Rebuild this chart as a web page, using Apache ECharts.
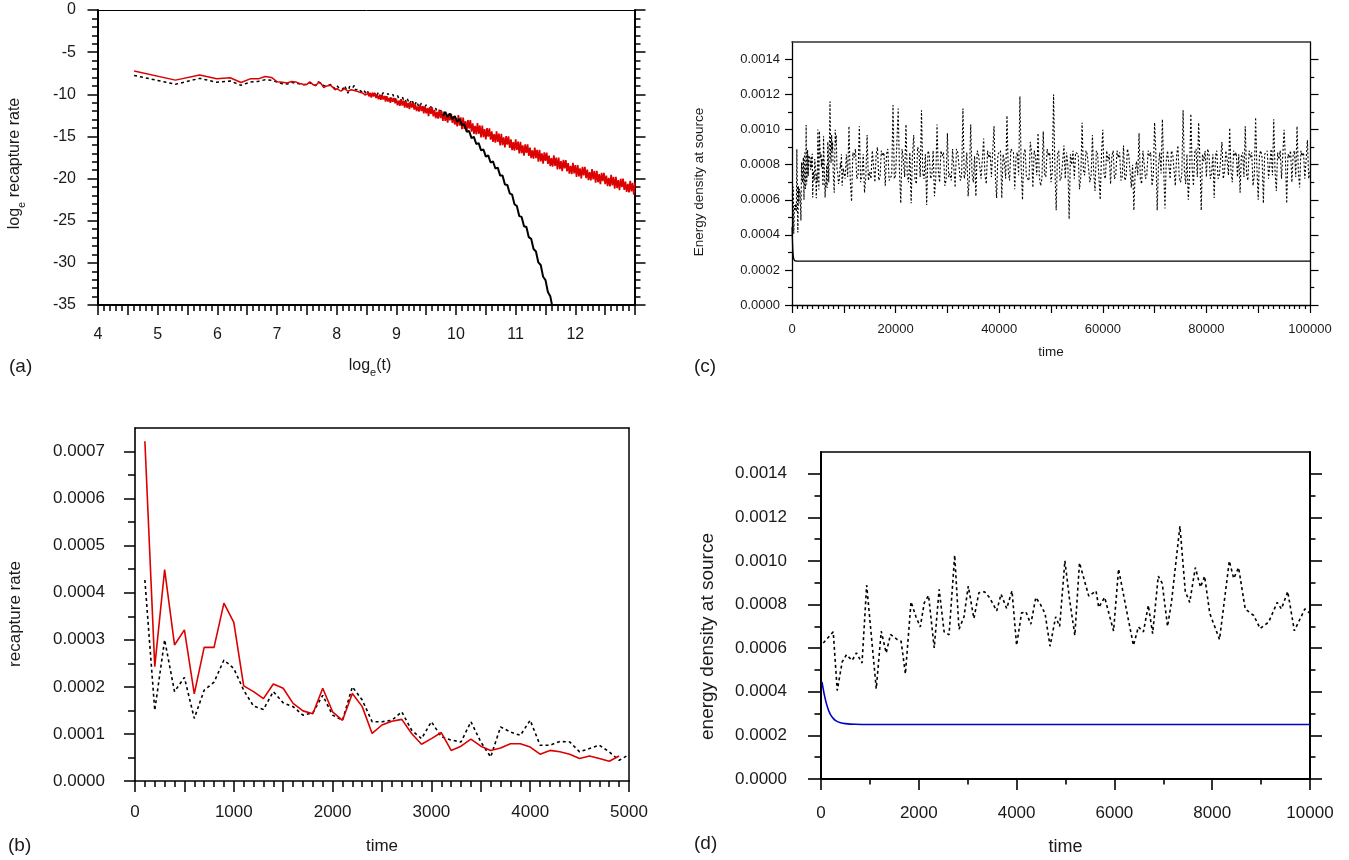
<!DOCTYPE html>
<html>
<head>
<meta charset="utf-8">
<script src="https://cdn.jsdelivr.net/npm/echarts@6/dist/echarts.min.js"></script>
<style>
html,body{margin:0;padding:0;background:#fff;}
#chart{width:1349px;height:860px;}
</style>
</head>
<body>
<div id="chart"></div>
<script>
// ---------------- DATA ----------------
// Panel (a): log_e recapture rate vs log_e(t)
const aLogTimeEarly = [4.605,5.298,5.704,5.991,6.215,6.397,6.551,6.685,6.802,6.908,
  7.003,7.090,7.170,7.244,7.313,7.378,7.438,7.496,7.550,7.601,
  7.650,7.696,7.741,7.783,7.824,7.863,7.901,7.937,7.972,8.006,
  8.039,8.071,8.102,8.132,8.161,8.189,8.216,8.243,8.269,8.294,
  8.319,8.343,8.366,8.389,8.412,8.434,8.455,8.476,8.497,8.517];
const aRedEarly = [-7.23,-8.32,-7.71,-8.15,-8.04,-8.60,-8.17,-8.17,-7.88,-8.00,
  -8.51,-8.57,-8.65,-8.49,-8.53,-8.71,-8.81,-8.85,-8.53,-8.83,
  -8.96,-8.59,-8.75,-9.20,-9.04,-8.97,-8.94,-9.20,-9.46,-9.32,
  -9.18,-9.64,-9.51,-9.33,-9.51,-9.64,-9.57,-9.45,-9.45,-9.54,
  -9.77,-9.64,-9.69,-9.77,-9.94,-9.85,-9.94,-10.08,-9.85,-9.95];
const aBlackEarly = [-7.76,-8.81,-8.11,-8.57,-8.42,-8.93,-8.55,-8.47,-8.27,-8.34,
  -8.55,-8.75,-8.79,-8.57,-8.70,-8.75,-8.87,-8.84,-8.61,-8.87,
  -8.96,-8.52,-8.67,-8.98,-8.98,-8.96,-8.83,-9.13,-9.32,-8.98,
  -9.27,-9.35,-9.40,-8.98,-9.40,-9.88,-9.07,-9.17,-9.24,-8.96,
  -9.48,-9.48,-9.38,-9.40,-9.69,-9.58,-9.48,-9.69,-10.03,-9.79];
const aRedTail = [
  [8.52,-9.62],[8.54,-10.25],[8.56,-9.83],[8.58,-10.39],[8.60,-9.80],[8.62,-10.27],[8.64,-9.83],[8.66,-10.45],[8.68,-10.01],[8.70,-10.60],
  [8.72,-10.18],[8.74,-10.65],[8.76,-10.05],[8.78,-10.63],[8.80,-10.20],[8.82,-10.85],[8.84,-10.23],[8.86,-10.85],[8.88,-10.44],[8.90,-11.00],
  [8.92,-10.41],[8.94,-10.88],[8.96,-10.43],[8.98,-11.06],[9.00,-10.62],[9.02,-11.31],[9.04,-10.75],[9.06,-11.37],[9.08,-10.57],[9.10,-11.33],
  [9.12,-10.74],[9.14,-11.59],[9.16,-10.77],[9.18,-11.59],[9.20,-11.03],[9.22,-11.76],[9.24,-10.96],[9.26,-11.58],[9.28,-10.99],[9.30,-11.81],
  [9.32,-11.22],[9.34,-11.98],[9.36,-11.43],[9.38,-12.04],[9.40,-11.24],[9.42,-12.00],[9.44,-11.41],[9.46,-12.27],[9.48,-11.44],[9.50,-12.26],
  [9.52,-11.63],[9.54,-12.60],[9.56,-11.52],[9.58,-12.33],[9.60,-11.54],[9.62,-12.63],[9.64,-11.84],[9.66,-12.84],[9.68,-12.09],[9.70,-12.90],
  [9.72,-11.83],[9.74,-12.84],[9.76,-12.04],[9.78,-13.17],[9.80,-12.06],[9.82,-13.15],[9.84,-12.40],[9.86,-13.36],[9.88,-12.29],[9.90,-13.10],
  [9.92,-12.31],[9.94,-13.40],[9.96,-12.60],[9.98,-13.61],[10.00,-12.86],[10.02,-13.81],[10.04,-12.47],[10.06,-13.73],[10.08,-12.74],[10.10,-14.15],
  [10.12,-12.76],[10.14,-14.12],[10.16,-13.18],[10.18,-14.39],[10.20,-13.05],[10.22,-14.06],[10.24,-13.07],[10.26,-14.43],[10.28,-13.44],[10.30,-14.70],
  [10.32,-13.76],[10.34,-14.77],[10.36,-13.43],[10.38,-14.69],[10.40,-13.70],[10.42,-15.11],[10.44,-13.72],[10.46,-15.08],[10.48,-14.14],[10.50,-15.35],
  [10.52,-14.01],[10.54,-15.02],[10.56,-14.03],[10.58,-15.39],[10.60,-14.40],[10.62,-15.66],[10.64,-14.72],[10.66,-15.73],[10.68,-14.39],[10.70,-15.65],
  [10.72,-14.66],[10.74,-16.07],[10.76,-14.68],[10.78,-16.04],[10.80,-15.10],[10.82,-16.31],[10.84,-14.97],[10.86,-15.98],[10.88,-14.99],[10.90,-16.35],
  [10.92,-15.36],[10.94,-16.62],[10.96,-15.68],[10.98,-16.69],[11.00,-15.35],[11.02,-16.61],[11.04,-15.62],[11.06,-17.03],[11.08,-15.64],[11.10,-17.00],
  [11.12,-16.06],[11.14,-17.27],[11.16,-15.93],[11.18,-16.94],[11.20,-15.95],[11.22,-17.31],[11.24,-16.32],[11.26,-17.58],[11.28,-16.64],[11.30,-17.65],
  [11.32,-16.31],[11.34,-17.57],[11.36,-16.58],[11.38,-17.99],[11.40,-16.60],[11.42,-17.96],[11.44,-17.02],[11.46,-18.23],[11.48,-16.89],[11.50,-17.90],
  [11.52,-16.91],[11.54,-18.26],[11.56,-17.27],[11.58,-18.52],[11.60,-17.58],[11.62,-18.59],[11.64,-17.24],[11.66,-18.50],[11.68,-17.50],[11.70,-18.91],
  [11.72,-17.52],[11.74,-18.87],[11.76,-17.93],[11.78,-19.13],[11.80,-17.79],[11.82,-18.80],[11.84,-17.80],[11.86,-19.16],[11.88,-18.16],[11.90,-19.42],
  [11.92,-18.48],[11.94,-19.48],[11.96,-18.14],[11.98,-19.39],[12.00,-18.40],[12.02,-19.79],[12.04,-18.39],[12.06,-19.73],[12.08,-18.78],[12.10,-19.97],
  [12.12,-18.61],[12.14,-19.61],[12.16,-18.60],[12.18,-19.95],[12.20,-18.94],[12.22,-20.18],[12.24,-19.23],[12.26,-20.22],[12.28,-18.87],[12.30,-20.11],
  [12.32,-19.10],[12.34,-20.50],[12.36,-19.09],[12.38,-20.44],[12.40,-19.48],[12.42,-20.67],[12.44,-19.32],[12.46,-20.31],[12.48,-19.31],[12.50,-20.65],
  [12.52,-19.64],[12.54,-20.89],[12.56,-19.93],[12.58,-20.93],[12.60,-19.57],[12.62,-20.81],[12.64,-19.81],[12.66,-21.20],[12.68,-19.80],[12.70,-21.14],
  [12.72,-20.18],[12.74,-21.38],[12.76,-20.02],[12.78,-21.02],[12.80,-20.01],[12.82,-21.35],[12.84,-20.35],[12.86,-21.59],[12.88,-20.64],[12.90,-21.63],
  [12.92,-20.27],[12.94,-21.52],[12.96,-20.51],[12.98,-21.91],[13.00,-20.50]];
const aBlackMid = [[8.54,-9.60],[8.58,-10.20],[8.62,-9.70],[8.66,-10.30],[8.70,-9.75],[8.74,-10.35],[8.78,-9.80],[8.82,-10.45],[8.86,-9.90],[8.90,-10.55],
  [8.94,-10.00],[8.98,-10.70],[9.02,-10.15],[9.06,-10.85],[9.10,-10.30],[9.14,-11.00],[9.18,-10.45],[9.22,-11.15],[9.26,-10.65],[9.30,-11.35],
  [9.34,-10.85],[9.38,-11.55],[9.42,-11.05],[9.46,-11.75],[9.50,-11.25],[9.54,-11.95],[9.58,-11.45],[9.62,-12.15],[9.66,-11.65],[9.70,-12.35],
  [9.74,-11.85],[9.78,-12.55]];
const aBlackFall = [[9.78,-12.55],[9.82,-12.10],[9.86,-12.70],[9.90,-12.30],[9.94,-12.95],[9.98,-12.60],[10.02,-13.25],[10.06,-12.95],[10.10,-13.65],[10.14,-13.55],
  [10.18,-14.45],[10.22,-14.35],[10.26,-15.20],[10.30,-15.05],[10.34,-15.90],[10.38,-15.80],[10.42,-16.65],[10.46,-16.55],[10.50,-17.40],[10.54,-17.25],
  [10.58,-18.10],[10.62,-17.95],[10.66,-18.80],[10.70,-18.70],[10.74,-19.65],[10.78,-19.65],[10.82,-20.70],[10.86,-20.75],[10.90,-21.75],[10.94,-21.90],
  [10.98,-23.05],[11.02,-23.25],[11.06,-24.45],[11.10,-24.55],[11.14,-25.65],[11.18,-25.75],[11.22,-26.95],[11.26,-27.15],[11.30,-28.35],[11.34,-28.65],
  [11.38,-29.95],[11.42,-30.25],[11.46,-31.65],[11.50,-32.05],[11.54,-33.45],[11.58,-33.95],[11.62,-35.40],[11.66,-36.40]];

// Panel (b): recapture rate vs time
const bTimes = [100,200,300,400,500,600,700,800,900,1000,1100,1200,1300,1400,1500,1600,1700,1800,1900,2000,
  2100,2200,2300,2400,2500,2600,2700,2800,2900,3000,3100,3200,3300,3400,3500,3600,3700,3800,3900,4000,
  4100,4200,4300,4400,4500,4600,4700,4800,4900,5000];
const bRed = [0.000722,0.000243,0.000449,0.000289,0.000321,0.000185,0.000284,0.000284,0.000378,0.000337,
  0.000202,0.000190,0.000175,0.000206,0.000197,0.000165,0.000149,0.000143,0.000197,0.000147,
  0.000129,0.000186,0.000158,0.000101,0.000119,0.000127,0.000131,0.000101,0.000078,0.000090,
  0.000103,0.000065,0.000074,0.000089,0.000074,0.000065,0.000070,0.000079,0.000079,0.000072,
  0.000057,0.000065,0.000062,0.000057,0.000048,0.000053,0.000048,0.000042,0.000053];
const bBlack = [0.000427,0.000150,0.000300,0.000190,0.000220,0.000133,0.000193,0.000210,0.000257,0.000239,
  0.000193,0.000159,0.000152,0.000190,0.000166,0.000158,0.000140,0.000145,0.000182,0.000140,
  0.000129,0.000200,0.000172,0.000126,0.000126,0.000129,0.000147,0.000108,0.000090,0.000126,
  0.000094,0.000087,0.000083,0.000126,0.000083,0.000051,0.000115,0.000104,0.000097,0.000129,
  0.000076,0.000076,0.000084,0.000083,0.000062,0.000069,0.000076,0.000062,0.000044,0.000056];

// Panels (c),(d): energy density at source vs time
const sourceDecay = [[20,0.000445],[40,0.00042],[60,0.000395],[100,0.000355],[150,0.000318],[200,0.000293],[250,0.000278],
  [300,0.000268],[400,0.000258],[500,0.000254],[700,0.000251],[1000,0.00025],[10000,0.00025]];
const sourceDecayLate = [[100000,0.00025]];
const dDotted = [[47,0.000624],[250,0.000675],[332,0.000406],[433,0.000537],[521,0.00057],[636,0.000544],[724,0.000578],[839,0.000532],
  [934,0.000889],[1130,0.000414],[1232,0.000678],[1333,0.000578],[1421,0.000663],[1557,0.00064],[1638,0.000632],[1726,0.000482],
  [1841,0.000813],[1942,0.000744],[2030,0.000698],[2112,0.000808],[2200,0.000842],[2315,0.000601],[2416,0.00087],[2518,0.000675],
  [2619,0.000662],[2734,0.001027],[2822,0.000687],[2924,0.000744],[3012,0.000885],[3127,0.000736],[3228,0.000854],[3344,0.000859],
  [3445,0.000833],[3594,0.000771],[3682,0.000848],[3797,0.000782],[3906,0.000863],[4000,0.000613],[4102,0.000762],[4190,0.000767],
  [4291,0.00071],[4393,0.000833],[4490,0.0008],[4582,0.000759],[4684,0.000609],[4799,0.000744],[4880,0.0007],[4988,0.001001],
  [5083,0.000823],[5191,0.000659],[5286,0.000992],[5476,0.000839],[5625,0.000863],[5679,0.000787],[5801,0.000833],[5983,0.000679],
  [6085,0.000963],[6274,0.000744],[6390,0.000613],[6491,0.000698],[6593,0.000675],[6694,0.000797],[6782,0.000667],[6897,0.000931],
  [6978,0.000897],[7087,0.0007],[7168,0.000813],[7340,0.00116],[7450,0.00086],[7540,0.00081],[7655,0.00097],[7760,0.00088],
  [7845,0.00093],[7950,0.00076],[8150,0.00064],[8350,0.001],[8440,0.00092],[8540,0.00097],[8675,0.00078],[8850,0.00075],
  [8980,0.00069],[9155,0.00072],[9330,0.00081],[9415,0.00078],[9545,0.00086],[9680,0.00068],[9895,0.00078],[10000,0.00076]];
const cDottedLate = [
  [10250,0.00072],[10500,0.00086],[10750,0.00073],[11000,0.00102],[11250,0.00071],[11500,0.00059],[11750,0.00087],[12000,0.00084],[12250,0.00089],[12500,0.00072],
  [12750,0.00074],[13000,0.00102],[13250,0.00070],[13500,0.00074],[13750,0.00086],[14000,0.00064],[14250,0.00073],[14500,0.00097],[14750,0.00071],[15000,0.00076],
  [15250,0.00072],[15500,0.00088],[15750,0.00088],[16000,0.00070],[16250,0.00086],[16500,0.00090],[16750,0.00071],[17000,0.00073],[17250,0.00088],[17500,0.00085],
  [17750,0.00087],[18000,0.00068],[18250,0.00086],[18500,0.00089],[18750,0.00071],[19000,0.00072],[19250,0.00074],[19500,0.00114],[19750,0.00072],[20000,0.00074],
  [20250,0.00075],[20500,0.00112],[20750,0.00076],[21000,0.00058],[21250,0.00089],[21500,0.00083],[21750,0.00073],[22000,0.00103],[22250,0.00074],[22500,0.00070],
  [22750,0.00087],[23000,0.00058],[23250,0.00085],[23500,0.00097],[23750,0.00072],[24000,0.00069],[24250,0.00090],[24500,0.00088],[24750,0.00073],[25000,0.00111],
  [25250,0.00075],[25500,0.00072],[25750,0.00086],[26000,0.00057],[26250,0.00088],[26500,0.00086],[26750,0.00072],[27000,0.00074],[27250,0.00088],[27500,0.00062],
  [27750,0.00072],[28000,0.00103],[28250,0.00076],[28500,0.00070],[28750,0.00088],[29000,0.00085],[29250,0.00087],[29500,0.00068],[29750,0.00071],[30000,0.00098],
  [30250,0.00073],[30500,0.00075],[30750,0.00071],[31000,0.00089],[31250,0.00088],[31500,0.00067],[31750,0.00089],[32000,0.00087],[32250,0.00086],[32500,0.00071],
  [32750,0.00074],[33000,0.00112],[33250,0.00072],[33500,0.00076],[33750,0.00087],[34000,0.00062],[34250,0.00073],[34500,0.00103],[34750,0.00075],[35000,0.00070],
  [35250,0.00085],[35500,0.00062],[35750,0.00088],[36000,0.00086],[36250,0.00087],[36500,0.00072],[36750,0.00073],[37000,0.00095],[37250,0.00074],[37500,0.00069],
  [37750,0.00088],[38000,0.00084],[38250,0.00087],[38500,0.00073],[38750,0.00072],[39000,0.00102],[39250,0.00074],[39500,0.00061],[39750,0.00086],[40000,0.00086],
  [40250,0.00088],[40500,0.00061],[40750,0.00086],[41000,0.00082],[41250,0.00072],[41500,0.00108],[41750,0.00076],[42000,0.00071],[42250,0.00089],[42500,0.00088],
  [42750,0.00087],[43000,0.00066],[43250,0.00085],[43500,0.00087],[43750,0.00074],[44000,0.00119],[44250,0.00078],[44500,0.00060],[44750,0.00086],[45000,0.00089],
  [45250,0.00073],[45500,0.00072],[45750,0.00071],[46000,0.00093],[46250,0.00087],[46500,0.00067],[46750,0.00088],[47000,0.00085],[47250,0.00074],[47500,0.00098],
  [47750,0.00073],[48000,0.00068],[48250,0.00072],[48500,0.00099],[48750,0.00075],[49000,0.00073],[49250,0.00089],[49500,0.00085],[49750,0.00087],[50000,0.00070],
  [50250,0.00076],[50500,0.00120],[50750,0.00078],[51000,0.00054],[51250,0.00086],[51500,0.00088],[51750,0.00071],[52000,0.00073],[52250,0.00074],[52500,0.00091],
  [52750,0.00072],[53000,0.00087],[53250,0.00080],[53500,0.00049],[53750,0.00086],[54000,0.00080],[54250,0.00088],[54500,0.00072],[54750,0.00087],[55000,0.00086],
  [55250,0.00086],[55500,0.00066],[55750,0.00073],[56000,0.00104],[56250,0.00077],[56500,0.00074],[56750,0.00088],[57000,0.00086],[57250,0.00087],[57500,0.00070],
  [57750,0.00074],[58000,0.00097],[58250,0.00075],[58500,0.00065],[58750,0.00088],[59000,0.00086],[59250,0.00087],[59500,0.00060],[59750,0.00086],[60000,0.00100],
  [60250,0.00074],[60500,0.00072],[60750,0.00088],[61000,0.00082],[61250,0.00086],[61500,0.00069],[61750,0.00085],[62000,0.00088],[62250,0.00072],[62500,0.00074],
  [62750,0.00088],[63000,0.00084],[63250,0.00087],[63500,0.00071],[63750,0.00073],[64000,0.00091],[64250,0.00071],[64500,0.00073],[64750,0.00089],[65000,0.00086],
  [65250,0.00085],[65500,0.00067],[65750,0.00080],[66000,0.00054],[66250,0.00076],[66500,0.00082],[66750,0.00074],[67000,0.00098],[67250,0.00072],[67500,0.00069],
  [67750,0.00088],[68000,0.00087],[68250,0.00072],[68500,0.00074],[68750,0.00088],[69000,0.00085],[69250,0.00087],[69500,0.00068],[69750,0.00074],[70000,0.00104],
  [70250,0.00086],[70500,0.00054],[70750,0.00080],[71000,0.00087],[71250,0.00075],[71500,0.00106],[71750,0.00078],[72000,0.00055],[72250,0.00082],[72500,0.00088],
  [72750,0.00089],[73000,0.00072],[73250,0.00088],[73500,0.00086],[73750,0.00086],[74000,0.00068],[74250,0.00085],[74500,0.00091],[74750,0.00073],[75000,0.00070],
  [75250,0.00074],[75500,0.00111],[75750,0.00076],[76000,0.00069],[76250,0.00086],[76500,0.00060],[76750,0.00074],[77000,0.00109],[77250,0.00078],[77500,0.00068],
  [77750,0.00087],[78000,0.00089],[78250,0.00073],[78500,0.00104],[78750,0.00083],[79000,0.00054],[79250,0.00086],[79500,0.00082],[79750,0.00088],[80000,0.00073],
  [80250,0.00089],[80500,0.00086],[80750,0.00072],[81000,0.00075],[81250,0.00086],[81500,0.00061],[81750,0.00085],[82000,0.00088],[82250,0.00072],[82500,0.00074],
  [82750,0.00073],[83000,0.00093],[83250,0.00072],[83500,0.00076],[83750,0.00088],[84000,0.00083],[84250,0.00074],[84500,0.00101],[84750,0.00076],[85000,0.00070],
  [85250,0.00088],[85500,0.00085],[85750,0.00087],[86000,0.00073],[86250,0.00086],[86500,0.00064],[86750,0.00085],[87000,0.00087],[87250,0.00073],[87500,0.00102],
  [87750,0.00075],[88000,0.00071],[88250,0.00088],[88500,0.00084],[88750,0.00087],[89000,0.00068],[89250,0.00074],[89500,0.00107],[89750,0.00078],[90000,0.00060],
  [90250,0.00086],[90500,0.00088],[90750,0.00084],[91000,0.00058],[91250,0.00086],[91500,0.00085],[91750,0.00088],[92000,0.00072],[92250,0.00073],[92500,0.00089],
  [92750,0.00074],[93000,0.00106],[93250,0.00076],[93500,0.00065],[93750,0.00087],[94000,0.00083],[94250,0.00088],[94500,0.00072],[94750,0.00073],[95000,0.00100],
  [95250,0.00084],[95500,0.00058],[95750,0.00086],[96000,0.00084],[96250,0.00088],[96500,0.00070],[96750,0.00086],[97000,0.00088],[97250,0.00073],[97500,0.00102],
  [97750,0.00076],[98000,0.00067],[98250,0.00088],[98500,0.00085],[98750,0.00087],[99000,0.00072],[99250,0.00073],[99500,0.00094],[99750,0.00072],[100000,0.00076]];

// Tick values
const yTicksB = [0,0.0001,0.0002,0.0003,0.0004,0.0005,0.0006,0.0007];
const yMinorB = [0.00005,0.00015,0.00025,0.00035,0.00045,0.00055,0.00065];
const yTicksE = [0,0.0002,0.0004,0.0006,0.0008,0.001,0.0012,0.0014];
const yMinorE = [0.0001,0.0003,0.0005,0.0007,0.0009,0.0011,0.0013];

// ---------------- BUILD ----------------
const FONT = '"Liberation Sans", Arial, Helvetica, sans-serif';
const INK = '#000';
const TXT = '#1a1a1a';
const RED = '#dd0000';
const BLUE = '#0000cc';

const zip = (xs, ys) => ys.map((y, i) => [xs[i], y]);

function lineOnlyX(g, min, max, w, color) {
  return {type:'value', gridIndex:g, position:'top', min:min, max:max,
    axisLine:{show:true, onZero:false, lineStyle:{color:color||INK, width:w}},
    axisTick:{show:false}, minorTick:{show:false}, axisLabel:{show:false}, splitLine:{show:false}};
}
function lineOnlyY(g, min, max, w) {
  return {type:'value', gridIndex:g, position:'right', min:min, max:max,
    axisLine:{show:true, onZero:false, lineStyle:{color:INK, width:w}},
    axisTick:{show:false}, minorTick:{show:false}, axisLabel:{show:false}, splitLine:{show:false}};
}
function xMain(o) {
  return {type:'value', gridIndex:o.g, position:'bottom', min:o.min, max:o.max, interval:o.interval,
    axisLine:{show:true, onZero:false, lineStyle:{color:INK, width:o.lw}},
    axisTick:{show:true, inside:false, length:o.tl, lineStyle:{color:INK, width:o.tw}},
    minorTick:{show:true, splitNumber:o.split, length:o.ml, lineStyle:{color:INK, width:o.tw}},
    axisLabel:{show:true, margin:o.margin, fontSize:o.fs, color:TXT, fontFamily:FONT, formatter:o.fmt},
    splitLine:{show:false}, minorSplitLine:{show:false},
    name:o.name, nameLocation:'middle', nameGap:o.nameGap, nameMoveOverlap:false,
    nameTextStyle:o.nameStyle};
}
function yCustom(o) {
  const ax = {type:'value', gridIndex:o.g, position:o.pos, min:o.min, max:o.max,
    axisLine:{show:o.line, onZero:false, lineStyle:{color:INK, width:o.lw||1}},
    axisTick:{show:true, inside:false, length:o.tl, customValues:o.ticks, lineStyle:{color:INK, width:o.tw}},
    minorTick:{show:false},
    axisLabel:{show:!!o.labels, customValues:o.ticks, margin:o.margin, fontSize:o.fs, color:TXT, fontFamily:FONT,
      formatter:(v)=>Number(v).toFixed(4)},
    splitLine:{show:false}};
  if (o.name) {
    ax.name = o.name; ax.nameLocation = 'middle'; ax.nameGap = o.nameGap; ax.nameMoveOverlap = false;
    ax.nameTextStyle = o.nameStyle;
  }
  return ax;
}

const subRich = (fs, sfs) => ({
  m:{fontSize:fs, fontFamily:FONT, color:TXT, lineHeight:20, verticalAlign:'top'},
  s:{fontSize:sfs, fontFamily:FONT, color:TXT, lineHeight:6, verticalAlign:'bottom'}
});

const grids = [
  {left:98, top:10, width:537, height:295},
  {left:135, top:428, width:494, height:353},
  {left:792, top:42, width:518, height:263},
  {left:821, top:452, width:489, height:327}
].map(g => Object.assign({containLabel:false, outerBoundsMode:'none'}, g));

const xAxes = [
  xMain({g:0, min:4, max:13, interval:0.5, lw:2, tl:10, tw:1.5, split:5, ml:6, margin:22, fs:16,
    fmt:(v)=> (Math.abs(v-Math.round(v))<1e-9 && v<12.5) ? String(Math.round(v)) : '',
    name:'{m|log}{s|e}{m|(t)}', nameGap:53,
    nameStyle:{fontFamily:FONT, color:TXT, padding:[0,0,0,7], rich:subRich(16,11)}}),
  lineOnlyX(0, 4, 13, 1),
  xMain({g:1, min:0, max:5000, interval:500, lw:1.6, tl:11, tw:1.5, split:5, ml:6, margin:23, fs:17,
    fmt:(v)=> (v % 1000 === 0) ? String(v) : '',
    name:'time', nameGap:57, nameStyle:{fontFamily:FONT, color:TXT, fontSize:17}}),
  lineOnlyX(1, 0, 5000, 1.5),
  xMain({g:2, min:0, max:100000, interval:10000, lw:1.3, tl:8, tw:1.2, split:10, ml:4, margin:18, fs:13,
    fmt:(v)=> (v % 20000 === 0) ? String(v) : '',
    name:'time', nameGap:40, nameStyle:{fontFamily:FONT, color:TXT, fontSize:13.5}}),
  lineOnlyX(2, 0, 100000, 1.5, '#333'),
  xMain({g:3, min:0, max:10000, interval:2000, lw:2, tl:11, tw:1.6, split:2, ml:5.5, margin:26, fs:17,
    fmt:(v)=> String(v),
    name:'time', nameGap:59, nameStyle:{fontFamily:FONT, color:TXT, fontSize:18}}),
  lineOnlyX(3, 0, 10000, 1.7)
];

const yAxes = [
  // (a) left
  {type:'value', gridIndex:0, position:'left', min:-35, max:0, interval:5,
    axisLine:{show:true, onZero:false, lineStyle:{color:INK, width:2}},
    axisTick:{show:true, length:10.5, lineStyle:{color:INK, width:1.5}},
    minorTick:{show:true, splitNumber:5, length:6, lineStyle:{color:INK, width:1.5}},
    axisLabel:{margin:22, fontSize:16, color:TXT, fontFamily:FONT, formatter:(v)=>String(v)},
    splitLine:{show:false},
    name:'{m|log}{s|e}{m| recapture rate}', nameLocation:'middle', nameGap:71, nameMoveOverlap:false,
    nameTextStyle:{fontFamily:FONT, color:TXT, padding:[0,12,0,0], rich:subRich(16,11)}},
  // (a) right
  {type:'value', gridIndex:0, position:'right', min:-35, max:0, interval:5,
    axisLine:{show:true, onZero:false, lineStyle:{color:INK, width:2}},
    axisTick:{show:true, length:10.5, lineStyle:{color:INK, width:1.5}},
    minorTick:{show:true, splitNumber:5, length:5.5, lineStyle:{color:INK, width:1.5}},
    axisLabel:{show:false}, splitLine:{show:false}},
  // (b)
  yCustom({g:1, pos:'left', min:0, max:0.00075, line:true, lw:1.6, tl:11, tw:1.5, ticks:yTicksB, labels:true, margin:30, fs:17,
    name:'recapture rate', nameGap:111, nameStyle:{fontFamily:FONT, color:TXT, fontSize:17, padding:[0,19,0,0]}}),
  yCustom({g:1, pos:'left', min:0, max:0.00075, line:false, tl:7, tw:1.5, ticks:yMinorB}),
  lineOnlyY(1, 0, 0.00075, 1.5),
  // (c)
  yCustom({g:2, pos:'left', min:0, max:0.0015, line:true, lw:1.3, tl:7, tw:1.2, ticks:yTicksE, labels:true, margin:12, fs:13,
    name:'Energy density at source', nameGap:86, nameStyle:{fontFamily:FONT, color:TXT, fontSize:13.5, padding:[0,17,0,0]}}),
  yCustom({g:2, pos:'left', min:0, max:0.0015, line:false, tl:4, tw:1.2, ticks:yMinorE}),
  yCustom({g:2, pos:'right', min:0, max:0.0015, line:true, lw:1.3, tl:8.5, tw:1.2, ticks:yTicksE}),
  yCustom({g:2, pos:'right', min:0, max:0.0015, line:false, tl:4.3, tw:1.2, ticks:yMinorE}),
  // (d)
  yCustom({g:3, pos:'left', min:0, max:0.0015, line:true, lw:2, tl:13, tw:1.6, ticks:yTicksE, labels:true, margin:34, fs:17,
    name:'energy density at source', nameGap:104, nameStyle:{fontFamily:FONT, color:TXT, fontSize:19, padding:[0,42,0,0]}}),
  yCustom({g:3, pos:'left', min:0, max:0.0015, line:false, tl:6.5, tw:1.6, ticks:yMinorE}),
  yCustom({g:3, pos:'right', min:0, max:0.0015, line:true, lw:2, tl:12, tw:1.6, ticks:yTicksE}),
  yCustom({g:3, pos:'right', min:0, max:0.0015, line:false, tl:5.5, tw:1.6, ticks:yMinorE})
];

function line(xi, yi, data, color, width, type) {
  return {type:'line', xAxisIndex:xi, yAxisIndex:yi, data:data, showSymbol:false, symbol:'none',
    smooth:false, silent:true, animation:false, clip:true,
    lineStyle:{color:color, width:width, type:type||'solid'}};
}

const series = [
  // (a)
  line(0, 0, zip(aLogTimeEarly, aBlackEarly).concat(aBlackMid), INK, 1.5, [3,3]),
  line(0, 0, zip(aLogTimeEarly, aRedEarly).concat(aRedTail.slice(0,1)), RED, 1.5),
  line(0, 0, aRedTail, RED, 1.7),
  line(0, 0, aBlackFall, INK, 2),
  // (b)
  line(2, 2, zip(bTimes, bBlack), INK, 1.6, [3,3]),
  line(2, 2, zip(bTimes, bRed), RED, 1.6),
  // (c)
  Object.assign(line(4, 5, sourceDecay.concat(sourceDecayLate), INK, 1.3), {smooth:0.3}),
  line(4, 5, dDotted.concat(cDottedLate), INK, 1.1, [2,2]),
  // (d)
  Object.assign(line(6, 9, sourceDecay, BLUE, 1.6), {smooth:0.3}),
  line(6, 9, dDotted, INK, 1.6, [3,3])
];

const panelLabel = (t, x, y) => ({type:'text', left:x, top:y, silent:true,
  style:{text:t, fontSize:19, fontFamily:FONT, fill:TXT}});

const chart = echarts.init(document.getElementById('chart'), null, {renderer:'canvas'});
chart.setOption({
  animation:false,
  backgroundColor:'#fff',
  textStyle:{fontFamily:FONT},
  grid:grids,
  xAxis:xAxes,
  yAxis:yAxes,
  series:series,
  graphic:[
    panelLabel('(a)', 9, 357),
    panelLabel('(b)', 8, 836),
    panelLabel('(c)', 694, 357),
    panelLabel('(d)', 694, 834)
  ]
});
</script>
</body>
</html>
